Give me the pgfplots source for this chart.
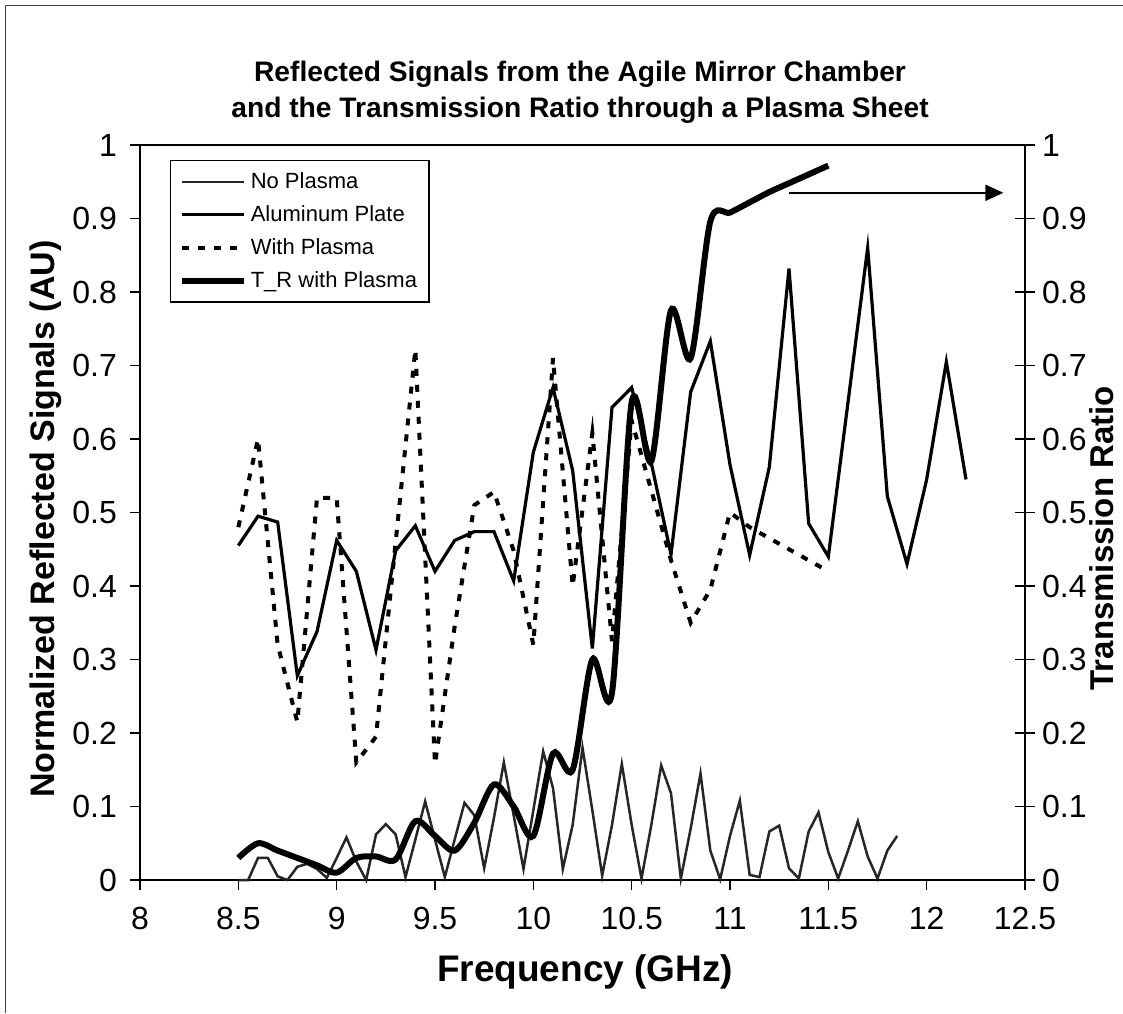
\documentclass[border=0pt]{standalone}
\usepackage{fontspec}
\setmainfont{Liberation Sans}
\usepackage{pgfplots}
\usepackage{pgfplotstable}
\pgfplotsset{compat=1.18}
\usetikzlibrary{arrows.meta}

% Reflected signal without plasma (0.05 GHz steps)
\pgfplotstableread{
f v
8.50 0.000
8.55 0.000
8.60 0.030
8.65 0.030
8.70 0.005
8.75 0.000
8.80 0.018
8.85 0.022
8.90 0.015
8.95 0.003
9.00 0.030
9.05 0.058
9.10 0.025
9.15 0.000
9.20 0.062
9.25 0.076
9.30 0.062
9.35 0.004
9.40 0.055
9.45 0.107
9.50 0.055
9.55 0.004
9.60 0.055
9.65 0.105
9.70 0.088
9.75 0.016
9.80 0.085
9.85 0.160
9.90 0.088
9.95 0.015
10.00 0.095
10.05 0.175
10.10 0.125
10.15 0.015
10.20 0.075
10.25 0.180
10.30 0.095
10.35 0.006
10.40 0.075
10.45 0.158
10.50 0.075
10.55 0.002
10.60 0.075
10.65 0.156
10.70 0.118
10.75 0.002
10.80 0.070
10.85 0.145
10.90 0.040
10.95 0.001
11.00 0.060
11.05 0.108
11.10 0.007
11.15 0.004
11.20 0.066
11.25 0.074
11.30 0.016
11.35 0.002
11.40 0.066
11.45 0.092
11.50 0.038
11.55 0.002
11.60 0.040
11.65 0.080
11.70 0.032
11.75 0.002
11.80 0.040
11.85 0.060
}\noplasma

% Aluminum plate reference
\pgfplotstableread{
f v
8.5 0.455
8.6 0.495
8.7 0.487
8.8 0.278
8.9 0.338
9.0 0.462
9.1 0.420
9.2 0.313
9.3 0.448
9.4 0.482
9.5 0.420
9.6 0.462
9.7 0.474
9.8 0.474
9.9 0.407
10.0 0.582
10.1 0.670
10.2 0.557
10.3 0.315
10.4 0.643
10.5 0.670
10.6 0.567
10.7 0.443
10.8 0.664
10.9 0.733
11.0 0.565
11.1 0.442
11.2 0.562
11.3 0.832
11.4 0.485
11.5 0.440
11.6 0.650
11.7 0.860
11.8 0.522
11.9 0.430
12.0 0.545
12.1 0.705
12.2 0.545
}\aluminum

% Reflected signal with plasma
\pgfplotstableread{
f v
8.5 0.480
8.6 0.600
8.7 0.320
8.8 0.215
8.9 0.520
9.0 0.520
9.1 0.160
9.2 0.195
9.3 0.460
9.4 0.722
9.5 0.158
9.6 0.345
9.7 0.510
9.8 0.528
9.9 0.448
10.0 0.320
10.1 0.710
10.2 0.400
10.3 0.608
10.4 0.325
10.5 0.625
10.6 0.530
10.7 0.435
10.8 0.350
10.9 0.395
11.0 0.500
11.1 0.480
11.2 0.465
11.3 0.450
11.4 0.435
11.5 0.420
}\withplasma

% Transmission ratio through the plasma sheet
\pgfplotstableread{
f v
8.5 0.030
8.6 0.050
8.7 0.040
8.8 0.030
8.9 0.020
9.0 0.010
9.1 0.030
9.2 0.032
9.3 0.028
9.4 0.080
9.5 0.060
9.6 0.040
9.7 0.078
9.8 0.130
9.9 0.100
10.0 0.060
10.1 0.172
10.2 0.150
10.3 0.300
10.4 0.255
10.5 0.650
10.6 0.570
10.7 0.775
10.8 0.710
10.9 0.896
11.0 0.908
11.1 0.922
11.2 0.936
11.3 0.948
11.4 0.960
11.5 0.972
}\transratio

\tikzset{
  noplasma/.style={black!85, line width=1.25pt},
  alplate/.style={black, line width=1.6pt, line join=miter},
  withplasma/.style={black, line width=2pt, dash pattern=on 3.5pt off 4.5pt},
  trplasma/.style={black, line width=3pt, smooth},
}

\pgfplotsset{
  common/.style={
    scale only axis,
    width=442.5pt, height=367.5pt,
    at={(70pt,66.5pt)}, anchor=south west,
    xmin=8, xmax=12.5, ymin=0, ymax=1,
    ytick={0,0.1,0.2,0.3,0.4,0.5,0.6,0.7,0.8,0.9,1},
    yticklabels={0,0.1,0.2,0.3,0.4,0.5,0.6,0.7,0.8,0.9,1},
    /pgf/number format/assume math mode=true,
    tick label style={font=\fontsize{16}{16}\selectfont, black},
    label style={font=\fontsize{17}{17}\selectfont\bfseries},
    axis line style={line width=0.9pt, black},
    tick style={line width=0.8pt, black},
    clip=false,
  },
}

\begin{document}
\begin{tikzpicture}
\path[use as bounding box] (0,0) rectangle (561.5pt,506.5pt);
% outer frame
\draw[line width=0.8pt, black!75] (2.75pt,0pt) -- (2.75pt,503.75pt) -- (561.5pt,503.75pt);

% title
\node[align=center, font=\fontsize{14.1}{18}\selectfont\bfseries]
  at (290pt,460.5pt) {Reflected Signals from the Agile Mirror Chamber\\and the Transmission Ratio through a Plasma Sheet};

\begin{axis}[common,
  xtick={8,8.5,9,9.5,10,10.5,11,11.5,12,12.5},
  xticklabels={8,8.5,9,9.5,10,10.5,11,11.5,12,12.5},
  xtick pos=bottom, ytick pos=left,
  tick align=outside, major tick length=5pt,
  xticklabel style={yshift=-5pt},
  yticklabel style={xshift=-3pt},
  xlabel={Frequency (GHz)},
  ylabel={Normalized Reflected Signals (AU)},
  xlabel style={at={(axis description cs:0.503,-0.125)}, anchor=center,
    font=\fontsize{18.5}{18.5}\selectfont\bfseries},
  ylabel style={at={(axis description cs:-0.107,0.491)}, anchor=center, rotate=0},
  legend cell align=left,
  legend image code/.code={\draw[#1] (0pt,0pt) -- (31pt,0pt);},
  legend style={at={(0.034,0.98)}, anchor=north west, draw=black, line width=0.7pt,
    font=\fontsize{11}{13}\selectfont, row sep=3pt, inner sep=4pt,
    /tikz/every even column/.append style={column sep=1pt}},
]
\addplot[noplasma] table[x=f,y=v] {\noplasma};
\addlegendentry{No Plasma}
\addplot[alplate] table[x=f,y=v] {\aluminum};
\addlegendentry{Aluminum Plate}
\addplot[withplasma] table[x=f,y=v] {\withplasma};
\addlegendentry{With Plasma}
\addlegendimage{black, line width=3pt}
\addlegendentry{T\_R with Plasma}
\draw[line width=1pt, -{Triangle[length=9pt, width=8pt]}]
  (axis cs:11.3,0.935) -- (axis cs:12.39,0.935);
\end{axis}

\begin{axis}[common,
  axis x line=none, axis y line*=right,
  tick align=center, major tick length=10pt,
  yticklabel style={xshift=0pt},
  ylabel={Transmission Ratio},
  ylabel style={at={(axis description cs:1.087,0.465)}, anchor=center, rotate=0,
    font=\fontsize{16.5}{16.5}\selectfont\bfseries},
]
\addplot[trplasma] table[x=f,y=v] {\transratio};
\end{axis}
\end{tikzpicture}
\end{document}
